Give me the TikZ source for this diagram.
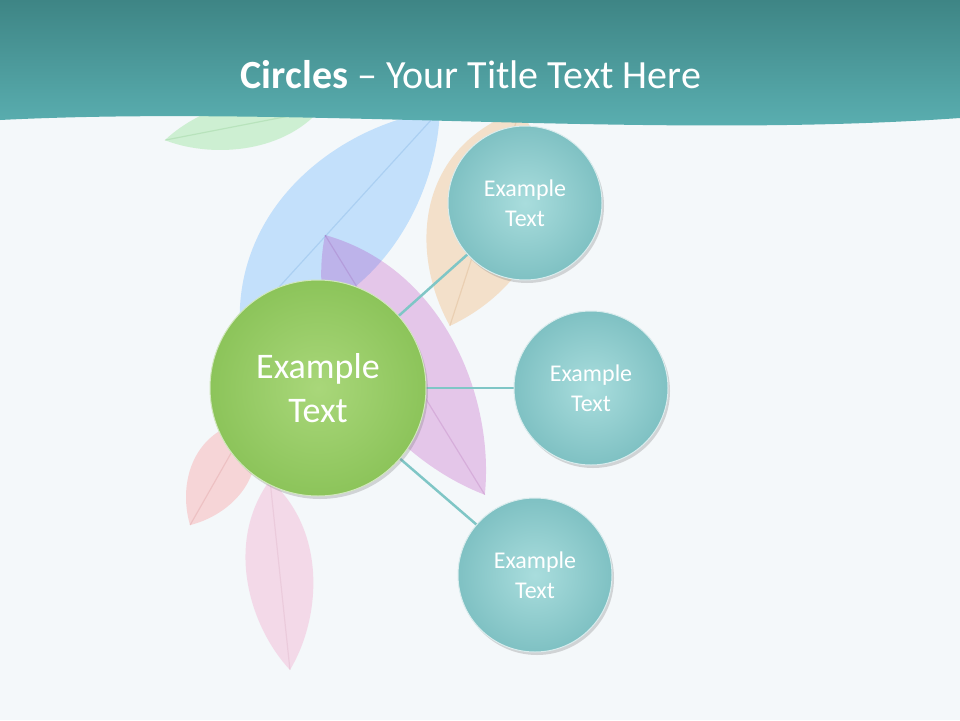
\documentclass[tikz,border=0pt]{standalone}
\usepackage{fontspec}
\setmainfont{Carlito}
\usetikzlibrary{shadows}
\definecolor{bg}{HTML}{F4F8FA}
\definecolor{hdA}{HTML}{3E8585}
\definecolor{hdB}{HTML}{5DB3B5}
\definecolor{tealin}{HTML}{A9DDDD}
\definecolor{tealout}{HTML}{7FC1C3}
\definecolor{grin}{HTML}{A9D77A}
\definecolor{grout}{HTML}{8CC45A}
\definecolor{conn}{HTML}{7FC6C6}
\newcommand{\leafshape}[6]{% x y angle length halfwidth color
\begin{scope}[shift={(#1,#2)},rotate=#3,x=1pt,y=1pt]
\fill[#6,opacity=0.2] (0,0) .. controls (0.3*#4,#5*1.3) and (0.75*#4,#5*0.9) .. (#4,0) .. controls (0.75*#4,-#5*0.9) and (0.3*#4,-#5*1.3) .. (0,0);
\draw[#6!70!black,opacity=0.12,line width=1.2pt] (0,0) -- (#4,0);
\end{scope}}
\tikzset{small/.style={circle,minimum size=154pt,inner sep=0pt,text=white,align=center,font=\fontsize{24}{30}\selectfont,draw=white!70!tealout,line width=1pt},
big/.style={circle,minimum size=216pt,inner sep=0pt,text=white,align=center,font=\fontsize{36}{44}\selectfont,draw=white!60!grout,line width=1pt},
link/.style={conn,line width=2.5pt}}
\begin{document}
\begin{tikzpicture}[x=1pt,y=-1pt]
\fill[bg] (0,0) rectangle (960,720);
\useasboundingbox (0,0) rectangle (960,720);
% leaves
\leafshape{320}{110}{-169}{158}{28}{green!60!gray}
\leafshape{240}{330}{47.7}{297}{70}{blue!50!cyan}
\leafshape{520}{110}{-108}{227}{68}{orange!80!brown}
\leafshape{325}{235}{-58.4}{305}{65}{violet!70!magenta}
\leafshape{250}{420}{-119.7}{121}{35}{red!60!pink}
\leafshape{270}{480}{-84}{191}{40}{magenta!50!pink}
% header
\shade[top color=hdA,bottom color=hdB] (0,0) -- (960,0) -- (960,118) .. controls (650,140) and (300,105) .. (0,120) -- cycle;
\node[text=white,font=\fontsize{40}{48}\selectfont] (title) at (471,75) {\textbf{Circles} – Your Title Text Here};
% nodes
\draw[link] (318,388) -- (525,203);
\draw[link] (318,388) -- (591,388);
\draw[link] (318,388) -- (535,575);
\node[big,drop shadow={shadow xshift=2pt,shadow yshift=-3pt,opacity=0.3},inner color=grin,outer color=grout] (c) at (318,388) {Example\\Text};
\node[small,drop shadow={shadow xshift=2pt,shadow yshift=-3pt,opacity=0.3},inner color=tealin,outer color=tealout] (a) at (525,203) {Example\\Text};
\node[small,drop shadow={shadow xshift=2pt,shadow yshift=-3pt,opacity=0.3},inner color=tealin,outer color=tealout] (b) at (591,388) {Example\\Text};
\node[small,drop shadow={shadow xshift=2pt,shadow yshift=-3pt,opacity=0.3},inner color=tealin,outer color=tealout] (d) at (535,575) {Example\\Text};
\end{tikzpicture}
\end{document}
